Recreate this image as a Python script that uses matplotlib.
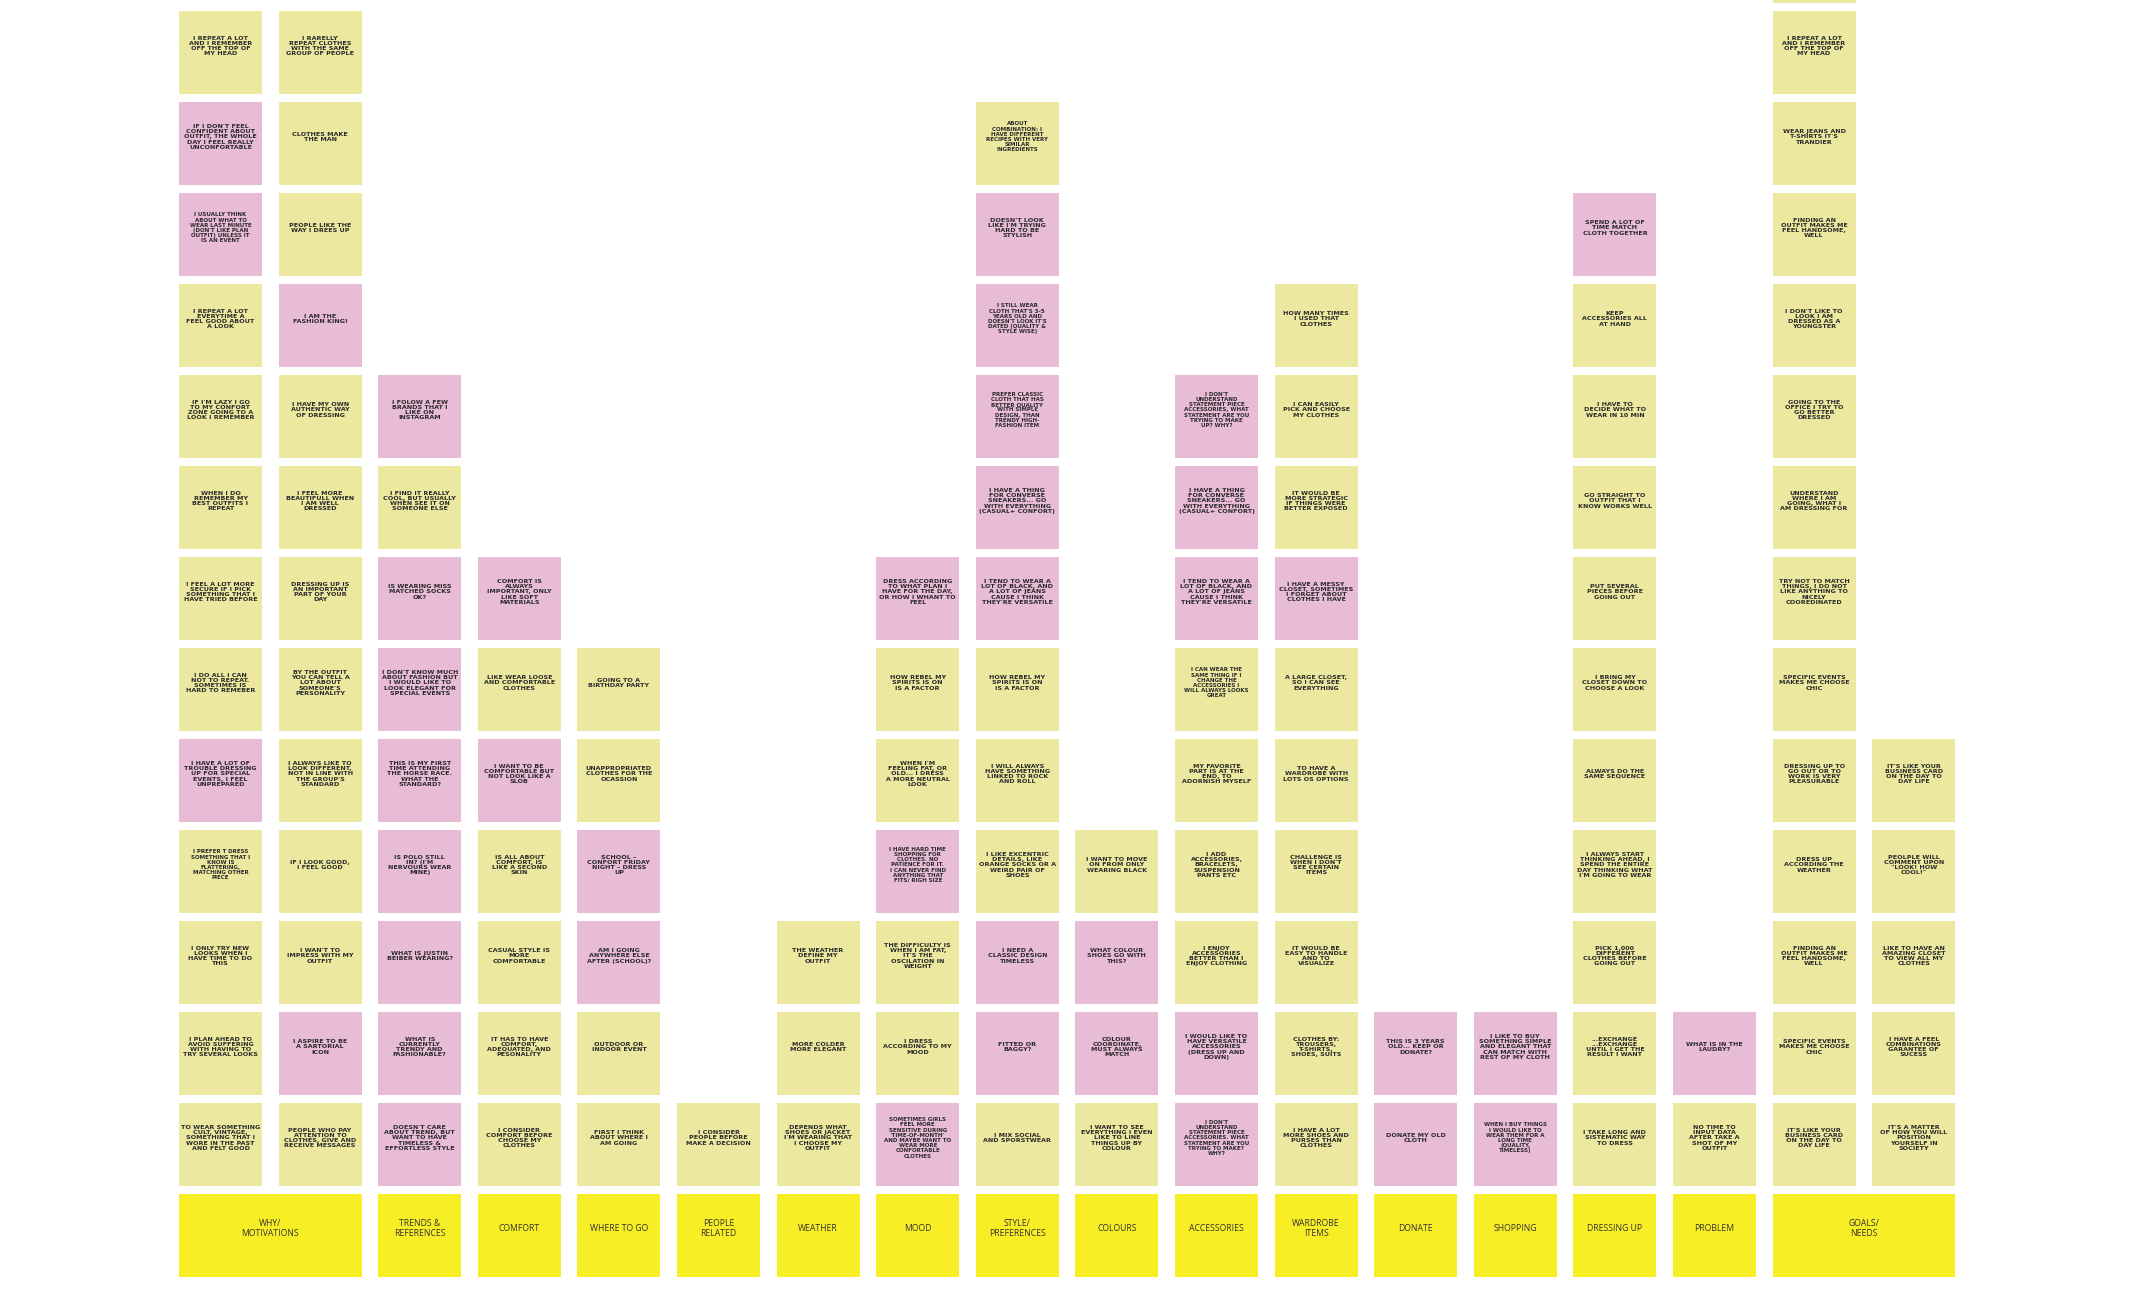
import textwrap
import matplotlib
matplotlib.use("Agg")
import matplotlib.pyplot as plt
from matplotlib.patches import Rectangle

categories = ["WHY/\nMOTIVATIONS", "TRENDS &\nREFERENCES", "COMFORT", "WHERE TO GO", "PEOPLE\nRELATED",
              "WEATHER", "MOOD", "STYLE/\nPREFERENCES", "COLOURS", "ACCESSORIES", "WARDROBE\nITEMS",
              "DONATE", "SHOPPING", "DRESSING UP", "PROBLEM", "GOALS/\nNEEDS"]
category_columns = [(0, 2), (2, 1), (3, 1), (4, 1), (5, 1), (6, 1), (7, 1), (8, 1), (9, 1), (10, 1),
                    (11, 1), (12, 1), (13, 1), (14, 1), (15, 1), (16, 2)]

# notes per column, top to bottom (last note sits just above the header)
col0 = ["I REPEAT A LOT AND I REMEMBER OFF THE TOP OF MY HEAD",
        "IF I DON'T FEEL CONFIDENT ABOUT OUTFIT, THE WHOLE DAY I FEEL REALLY UNCONFORTABLE",
        "I USUALLY THINK ABOUT WHAT TO WEAR LAST MINUTE (DON'T LIKE PLAN OUTFIT) UNLESS IT IS AN EVENT",
        "I REPEAT A LOT EVERYTIME A FEEL GOOD ABOUT A LOOK",
        "IF I'M LAZY I GO TO MY CONFORT ZONE GOING TO A LOOK I REMEMBER",
        "WHEN I DO REMEMBER MY BEST OUTFITS I REPEAT",
        "I FEEL A LOT MORE SECURE IF I PICK SOMETHING THAT I HAVE TRIED BEFORE",
        "I DO ALL I CAN NOT TO REPEAT. SOMETIMES IS HARD TO REMEBER",
        "I HAVE A LOT OF TROUBLE DRESSING UP FOR SPECIAL EVENTS, I FEEL UNPREPARED",
        "I PREFER T DRESS SOMETHING THAT I KNOW IS FLATTERING, MATCHING OTHER PIECE",
        "I ONLY TRY NEW LOOKS WHEN I HAVE TIME TO DO THIS",
        "I PLAN AHEAD TO AVOID SUFFERING WITH HAVING TO TRY SEVERAL LOOKS",
        "TO WEAR SOMETHING CULT, VINTAGE, SOMETHING THAT I WORE IN THE PAST AND FELT GOOD"]
tone0 = "yppyyyyypyyyy"
col1 = ["I RARELLY REPEAT CLOTHES WITH THE SAME GROUP OF PEOPLE", "CLOTHES MAKE THE MAN",
        "PEOPLE LIKE THE WAY I DREES UP", "I AM THE FASHION KING!", "I HAVE MY OWN AUTHENTIC WAY OF DRESSING",
        "I FEEL MORE BEAUTIFULL WHEN I AM WELL DRESSED", "DRESSING UP IS AN IMPORTANT PART OF YOUR DAY",
        "BY THE OUTFIT YOU CAN TELL A LOT ABOUT SOMEONE'S PERSONALITY",
        "I ALWAYS LIKE TO LOOK DIFFERENT, NOT IN LINE WITH THE GROUP'S STANDARD",
        "IF I LOOK GOOD, I FEEL GOOD", "I WAN'T TO IMPRESS WITH MY OUTFIT", "I ASPIRE TO BE A SARTORIAL ICON",
        "PEOPLE WHO PAY ATTENTION TO CLOTHES, GIVE AND RECEIVE MESSAGES"]
tone1 = "yyypyyyyyyypy"
col2 = ["I FOLOW A FEW BRANDS THAT I LIKE ON INSTAGRAM",
        "I FIND IT REALLY COOL, BUT USUALLY WHEN SEE IT ON SOMEONE ELSE",
        "IS WEARING MISS MATCHED SOCKS OK?",
        "I DON'T KNOW MUCH ABOUT FASHION BUT I WOULD LIKE TO LOOK ELEGANT FOR SPECIAL EVENTS",
        "THIS IS MY FIRST TIME ATTENDING THE HORSE RACE. WHAT THE STANDARD?",
        "IS POLO STILL IN? (I'M NERVOURS WEAR MINE)", "WHAT IS JUSTIN BEIBER WEARING?",
        "WHAT IS CURRENTLY TRENDY AND FASHIONABLE?",
        "DOESN'T CARE ABOUT TREND, BUT WANT TO HAVE TIMELESS & EFFORTLESS STYLE"]
tone2 = "pyppppppp"
col3 = ["COMFORT IS ALWAYS IMPORTANT, ONLY LIKE SOFT MATERIALS", "LIKE WEAR LOOSE AND COMFORTABLE CLOTHES",
        "I WANT TO BE COMFORTABLE BUT NOT LOOK LIKE A SLOB", "IS ALL ABOUT COMFORT, IS LIKE A SECOND SKIN",
        "CASUAL STYLE IS MORE COMFORTABLE", "IT HAS TO HAVE COMFORT, ADEQUATED, AND PESONALITY",
        "I CONSIDER COMFORT BEFORE CHOOSE MY CLOTHES"]
tone3 = "pypyyyy"
col4 = ["GOING TO A BIRTHDAY PARTY", "UNAPPROPRIATED CLOTHES FOR THE OCASSION",
        "SCHOOL – CONFORT FRIDAY NIGHT – DRESS UP", "AM I GOING ANYWHERE ELSE AFTER (SCHOOL)?",
        "OUTDOOR OR INDOOR EVENT", "FIRST I THINK ABOUT WHERE I AM GOING"]
tone4 = "yyppyy"
col5 = ["I CONSIDER PEOPLE BEFORE MAKE A DECISION"]
tone5 = "y"
col6 = ["THE WEATHER DEFINE MY OUTFIT", "MORE COLDER MORE ELEGANT",
        "DEPENDS WHAT SHOES OR JACKET I'M WEARING THAT I CHOOSE MY OUTFIT"]
tone6 = "yyy"
col7 = ["DRESS ACCORDING TO WHAT PLAN I HAVE FOR THE DAY, OR HOW I WHANT TO FEEL",
        "HOW REBEL MY SPIRITS IS ON IS A FACTOR",
        "WHEN I'M FEELING FAT, OR OLD... I DRESS A MORE NEUTRAL LOOK",
        "I HAVE HARD TIME SHOPPING FOR CLOTHES. NO PATIENCE FOR IT. I CAN NEVER FIND ANYTHING THAT FITS/ RIGH SIZE",
        "THE DIFFICULTY IS WHEN I AM FAT, IT'S THE OSCILATION IN WEIGHT",
        "I DRESS ACCORDING TO MY MOOD",
        "SOMETIMES GIRLS FEEL MORE SENSITIVE DURING 'TIME-OF-MONTH' AND MAYBE WANT TO WEAR MORE CONFORTABLE CLOTHES"]
tone7 = "pyypyyp"
col8 = ["ABOUT COMBINATION: I HAVE DIFFERENT RECIPES WITH VERY SIMILAR INGREDIENTS",
        "DOESN'T LOOK LIKE I'M TRYING HARD TO BE STYLISH",
        "I STILL WEAR CLOTH THAT'S 3-5 YEARS OLD AND DOESN'T LOOK IT'S DATED (QUALITY & STYLE WISE)",
        "PREFER CLASSIC CLOTH THAT HAS BETTER QUALITY WITH SIMPLE DESIGN, THAN TRENDY HIGH-FASHION ITEM",
        "I HAVE A THING FOR CONVERSE SNEAKERS... GO WITH EVERYTHING (CASUAL+ CONFORT)",
        "I TEND TO WEAR A LOT OF BLACK, AND A LOT OF JEANS CAUSE I THINK THEY'RE VERSATILE",
        "HOW REBEL MY SPIRITS IS ON IS A FACTOR",
        "I WILL ALWAYS HAVE SOMETHING LINKED TO ROCK AND ROLL",
        "I LIKE EXCENTRIC DETAILS, LIKE ORANGE SOCKS OR A WEIRD PAIR OF SHOES",
        "I NEED A CLASSIC DESIGN TIMELESS", "FITTED OR BAGGY?", "I MIX SOCIAL AND SPORSTWEAR"]
tone8 = "ypppppyyyppy"
col9 = ["I WANT TO MOVE ON FROM ONLY WEARING BLACK", "WHAT COLOUR SHOES GO WITH THIS?",
        "COLOUR COORDINATE, MUST ALWAYS MATCH",
        "I WANT TO SEE EVERYTHING I EVEN LIKE TO LINE THINGS UP BY COLOUR"]
tone9 = "yppy"
col10 = ["I DON'T UNDERSTAND STATEMENT PIECE ACCESSORIES, WHAT STATEMENT ARE YOU TRYING TO MAKE UP? WHY?",
         "I HAVE A THING FOR CONVERSE SNEAKERS... GO WITH EVERYTHING (CASUAL+ CONFORT)",
         "I TEND TO WEAR A LOT OF BLACK, AND A LOT OF JEANS CAUSE I THINK THEY'RE VERSATILE",
         "I CAN WEAR THE SAME THING IF I CHANGE THE ACCESSORIES I WILL ALWAYS LOOKS GREAT",
         "MY FAVORITE PART IS AT THE END, TO ADORNISH MYSELF",
         "I ADD ACCESSORIES, BRACELETS, SUSPENSION PANTS ETC",
         "I ENJOY ACCESSORIES BETTER THAN I ENJOY CLOTHING",
         "I WOULD LIKE TO HAVE VERSATILE ACCESSORIES (DRESS UP AND DOWN)",
         "I DON'T UNDERSTAND STATEMENT PIECE ACCESSORIES. WHAT STATEMENT ARE YOU TRYING TO MAKE? WHY?"]
tone10 = "pppyyyypp"
col11 = ["HOW MANY TIMES I USED THAT CLOTHES", "I CAN EASILY PICK AND CHOOSE MY CLOTHES",
         "IT WOULD BE MORE STRATEGIC IF THINGS WERE BETTER EXPOSED",
         "I HAVE A MESSY CLOSET, SOMETIMES I FORGET ABOUT CLOTHES I HAVE",
         "A LARGE CLOSET, SO I CAN SEE EVERYTHING", "TO HAVE A WARDROBE WITH LOTS OS OPTIONS",
         "CHALLENGE IS WHEN I DON'T SEE CERTAIN ITEMS", "IT WOULD BE EASY TO HANDLE AND TO VISUALIZE",
         "CLOTHES BY: TROUSERS, T-SHIRTS, SHOES, SUITS", "I HAVE A LOT MORE SHOES AND PURSES THAN CLOTHES"]
tone11 = "yyypyyyyyy"
col12 = ["THIS IS 3 YEARS OLD... KEEP OR DONATE?", "DONATE MY OLD CLOTH"]
tone12 = "pp"
col13 = ["I LIKE TO BUY SOMETHING SIMPLE AND ELEGANT THAT CAN MATCH WITH REST OF MY CLOTH",
         "WHEN I BUY THINGS I WOULD LIKE TO WEAR THEM FOR A LONG TIME (QUALITY, TIMELESS)"]
tone13 = "pp"
col14 = ["SPEND A LOT OF TIME MATCH CLOTH TOGETHER", "KEEP ACCESSORIES ALL AT HAND",
         "I HAVE TO DECIDE WHAT TO WEAR IN 10 MIN", "GO STRAIGHT TO OUTFIT THAT I KNOW WORKS WELL",
         "PUT SEVERAL PIECES BEFORE GOING OUT", "I BRING MY CLOSET DOWN TO CHOOSE A LOOK",
         "ALWAYS DO THE SAME SEQUENCE",
         "I ALWAYS START THINKING AHEAD, I SPEND THE ENTIRE DAY THINKING WHAT I'M GOING TO WEAR",
         "PICK 1,000 DIFFERENT CLOTHES BEFORE GOING OUT",
         "...EXCHANGE ...EXCHANGE UNTIL I GET THE RESULT I WANT", "I TAKE LONG AND SISTEMATIC WAY TO DRESS"]
tone14 = "pyyyyyyyyyy"
col15 = ["WHAT IS IN THE LAUDRY?", "NO TIME TO INPUT DATA AFTER TAKE A SHOT OF MY OUTFIT"]
tone15 = "py"
col16 = ["", "I REPEAT A LOT AND I REMEMBER OFF THE TOP OF MY HEAD", "WEAR JEANS AND T-SHIRTS IT'S TRANDIER",
         "FINDING AN OUTFIT MAKES ME FEEL HANDSOME, WELL", "I DON'T LIKE TO LOOK I AM DRESSED AS A YOUNGSTER",
         "GOING TO THE OFFICE I TRY TO GO BETTER DRESSED",
         "UNDERSTAND WHERE I AM GOING, WHAT I AM DRESSING FOR",
         "TRY NOT TO MATCH THINGS, I DO NOT LIKE ANYTHING TO NICELY COOREDINATED",
         "SPECIFIC EVENTS MAKES ME CHOOSE CHIC", "DRESSING UP TO GO OUT OR TO WORK IS VERY PLEASURABLE",
         "DRESS UP ACCORDING THE WEATHER", "FINDING AN OUTFIT MAKES ME FEEL HANDSOME, WELL",
         "SPECIFIC EVENTS MAKES ME CHOOSE CHIC", "IT'S LIKE YOUR BUSINESS CARD ON THE DAY TO DAY LIFE"]
tone16 = "yyyyyyyyyyyyyy"
col17 = ["IT'S LIKE YOUR BUSINESS CARD ON THE DAY TO DAY LIFE",
         "PEOLPLE WILL COMMENT UPON \"LOOK! HOW COOL!\"",
         "LIKE TO HAVE AN AMAZING CLOSET TO VIEW ALL MY CLOTHES",
         "I HAVE A FEEL COMBINATIONS GARANTEE OF SUCESS",
         "IT'S A MATTER OF HOW YOU WILL POSITION YOURSELF IN SOCIETY"]
tone17 = "yyyyy"

columns = [col0, col1, col2, col3, col4, col5, col6, col7, col8, col9, col10, col11, col12, col13,
           col14, col15, col16, col17]
tones = [tone0, tone1, tone2, tone3, tone4, tone5, tone6, tone7, tone8, tone9, tone10, tone11, tone12,
         tone13, tone14, tone15, tone16, tone17]

# layout
W, H = 2134, 1290
X0, DX, NOTE = 179, 99.6, 83
Y0, DY = 11, 91.0
ROWS = 13
colors = {"y": "#ECE89F", "p": "#E8BBD7"}
header_color = "#F7EE25"

fig = plt.figure(figsize=(W / 100, H / 100), dpi=100)
ax = fig.add_axes([0, 0, 1, 1])
ax.set_xlim(0, W)
ax.set_ylim(H, 0)
ax.axis("off")

for ci, (notes, tn) in enumerate(zip(columns, tones)):
    x = X0 + ci * DX
    start = ROWS - len(notes)
    for k, (txt, t) in enumerate(zip(notes, tn)):
        y = Y0 + (start + k) * DY
        ax.add_patch(Rectangle((x, y), NOTE, NOTE, facecolor=colors[t], edgecolor="none"))
        if txt:
            width = 17 if len(txt) > 60 else 15
            wrapped = "\n".join(textwrap.wrap(txt, width))
            nlines = wrapped.count("\n") + 1
            fs = 4.6 if nlines <= 5 else 4.0
            ax.text(x + NOTE / 2, y + NOTE * 0.42, wrapped, ha="center", va="center", fontsize=fs,
                    fontweight="bold", color="#2a2a2a", family="DejaVu Sans", linespacing=1.05)

hy = Y0 + ROWS * DY
for name, (c, span) in zip(categories, category_columns):
    x = X0 + c * DX
    w = NOTE + (span - 1) * DX
    ax.add_patch(Rectangle((x, hy), w, NOTE, facecolor=header_color, edgecolor="none"))
    ax.text(x + w / 2, hy + NOTE * 0.42, name, ha="center", va="center", fontsize=6.2,
            color="#333333", family="Open Sans", linespacing=1.15)

fig.savefig("out.png", dpi=100, facecolor="white")
